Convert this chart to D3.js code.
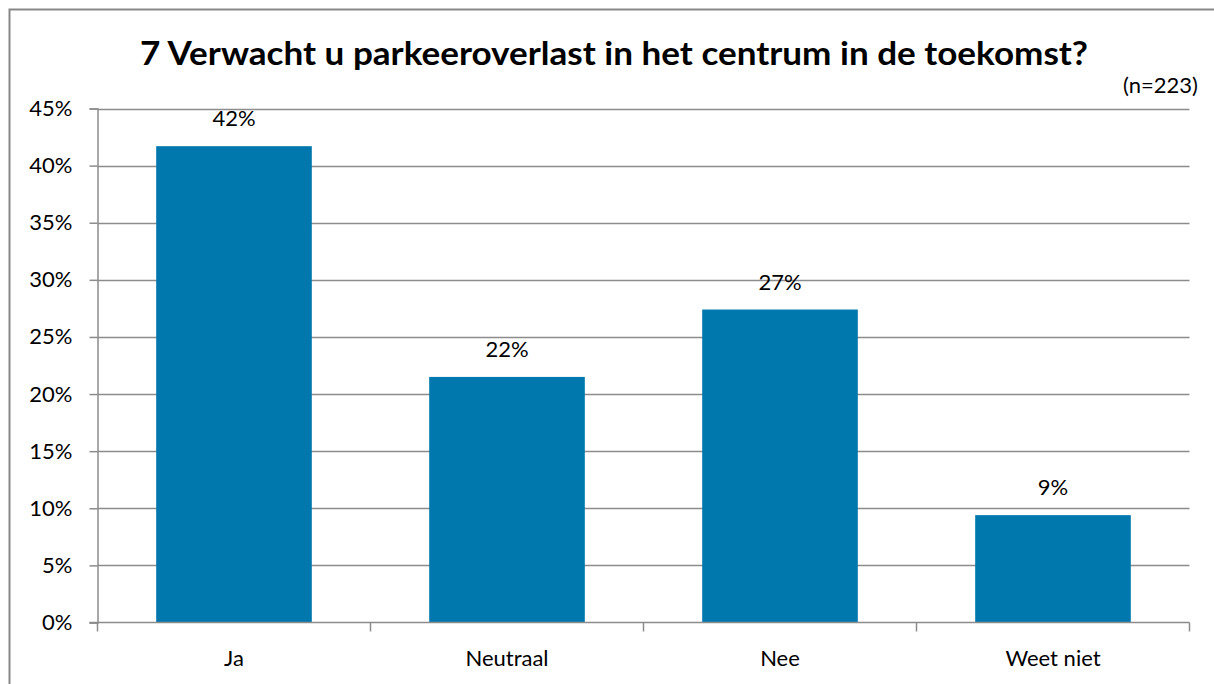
<!DOCTYPE html>
<html><head><meta charset="utf-8">
<script src="https://cdn.jsdelivr.net/npm/d3@7"></script>
<style>body{margin:0;background:#fff}svg{display:block}text{font-family:Lato,"Open Sans",sans-serif}</style>
</head><body><svg id="c" width="1214" height="684"></svg>
<script>
const categories = ["Ja", "Neutraal", "Nee", "Weet niet"];
const values = [41.7, 21.5, 27.4, 9.4];
const labels = ["42%", "22%", "27%", "9%"];
const yTicks = [0, 5, 10, 15, 20, 25, 30, 35, 40, 45];
const title = "7 Verwacht u parkeeroverlast in het centrum in de toekomst?";
const note = "(n=223)";

const svg = d3.select("#c");
const m = {left: 97.5, right: 1189.5, top: 108.5, bottom: 622.5};
svg.append("rect").attr("x", 9.5).attr("y", 9.5).attr("width", 1214).attr("height", 684)
  .attr("fill", "#fff").attr("stroke", "#888").attr("stroke-width", 2);

const x = d3.scaleBand().domain(categories).range([m.left, m.right]).paddingInner(0.43).paddingOuter(0.215);
const y = d3.scaleLinear().domain([0, 45]).range([m.bottom, m.top]);

// gridlines
svg.append("g").selectAll("line").data(yTicks.filter(d => d > 0)).join("line")
  .attr("x1", m.left).attr("x2", m.right).attr("y1", d => Math.round(y(d)) + 0.5).attr("y2", d => Math.round(y(d)) + 0.5)
  .attr("stroke", "#8c8c8c").attr("stroke-width", 1.5);

// bars
svg.append("g").selectAll("rect").data(values).join("rect")
  .attr("x", (d, i) => x(categories[i])).attr("width", x.bandwidth())
  .attr("y", d => y(d)).attr("height", d => y(0) - y(d)).attr("fill", "#0077ad");

// y axis
const yAxis = d3.axisLeft(y).tickValues(yTicks).tickFormat(d => d + "%").tickSize(8).tickPadding(17);
const gy = svg.append("g").attr("transform", `translate(${m.left},0)`).call(yAxis);
gy.select(".domain").attr("stroke", "#8c8c8c").attr("stroke-width", 1.5);
gy.selectAll(".tick line").attr("stroke", "#8c8c8c").attr("stroke-width", 1.5);
gy.selectAll(".tick text").attr("font-size", 22).attr("fill", "#000").style("font-family", "Lato");

// x axis with category boundary ticks
const xb = d3.scaleLinear().domain([0, categories.length]).range([m.left, m.right]);
svg.append("line").attr("x1", m.left - 8).attr("x2", m.right).attr("y1", m.bottom).attr("y2", m.bottom)
  .attr("stroke", "#8c8c8c").attr("stroke-width", 1.5);
svg.append("g").selectAll("line").data(d3.range(categories.length + 1)).join("line")
  .attr("x1", d => xb(d)).attr("x2", d => xb(d)).attr("y1", m.bottom).attr("y2", m.bottom + 9)
  .attr("stroke", "#8c8c8c").attr("stroke-width", 1.5);
svg.append("g").selectAll("text").data(categories).join("text")
  .attr("x", d => x(d) + x.bandwidth() / 2).attr("y", 666).attr("text-anchor", "middle")
  .attr("font-size", 22).text(d => d);

// data labels
svg.append("g").selectAll("text").data(values).join("text")
  .attr("x", (d, i) => x(categories[i]) + x.bandwidth() / 2).attr("y", d => y(d) - 20)
  .attr("text-anchor", "middle").attr("font-size", 22).text((d, i) => labels[i]);

// title
svg.append("text").attr("x", 614).attr("y", 65).attr("text-anchor", "middle")
  .attr("font-size", 33).attr("font-weight", "bold")
  .attr("textLength", 948).attr("lengthAdjust", "spacingAndGlyphs").text(title);
svg.append("text").attr("x", 1198).attr("y", 93).attr("text-anchor", "end")
  .attr("font-size", 22).text(note);
</script></body></html>
